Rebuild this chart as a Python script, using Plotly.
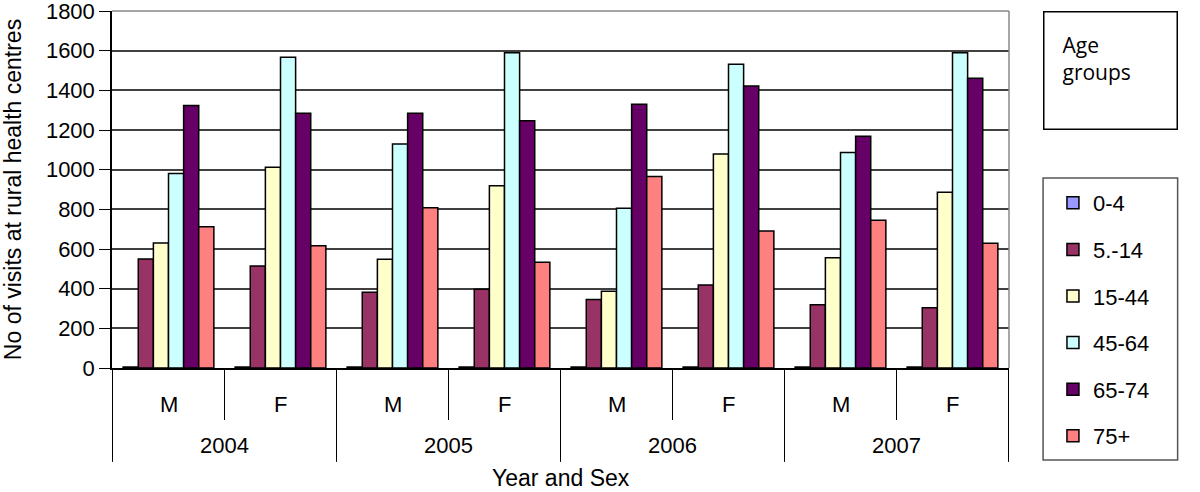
import plotly.graph_objects as go

years = ["2004", "2004", "2005", "2005", "2006", "2006", "2007", "2007"]
sexes = ["M", "F", "M", "F", "M", "F", "M", "F"]
year_labels = ["2004", "2005", "2006", "2007"]

age_groups = ["0-4", "5.-14", "15-44", "45-64", "65-74", "75+"]
colors = ["#9999FF", "#993366", "#FFFFCC", "#CCFFFF", "#660066", "#FF8080"]

v_0_4 = [5, 5, 5, 5, 5, 5, 5, 5]
v_5_14 = [550, 514, 382, 397, 346, 418, 319, 304]
v_15_44 = [630, 1012, 548, 919, 387, 1079, 556, 886]
v_45_64 = [981, 1567, 1130, 1590, 805, 1531, 1086, 1590]
v_65_74 = [1323, 1284, 1284, 1247, 1330, 1422, 1168, 1461]
v_75 = [712, 617, 808, 533, 965, 691, 745, 629]

series = [v_0_4, v_5_14, v_15_44, v_45_64, v_65_74, v_75]

# one unique category per year/sex pair
cats = [f"{y} {s}" for y, s in zip(years, sexes)]

fig = go.Figure()
for i, (name, vals) in enumerate(zip(age_groups, series)):
    fig.add_trace(go.Bar(
        x=cats,
        y=vals,
        name=name,
        legendgroup=name,
        marker=dict(color=colors[i], line=dict(color="black", width=1.5)),
    ))

fig.update_layout(
    width=1200,
    height=492,
    barmode="group",
    bargap=0.19,
    bargroupgap=0,
    plot_bgcolor="white",
    paper_bgcolor="white",
    font=dict(family="Liberation Sans, Arial", size=22, color="black"),
    margin=dict(l=112, r=191, t=11, b=124, autoexpand=False),
    legend=dict(
        x=1.049,
        xanchor="left",
        y=0.521,
        yanchor="top",
        borderwidth=0,
        font=dict(size=22),
        tracegroupgap=15,
        traceorder="grouped",
        itemclick=False,
    ),
)

fig.update_yaxes(
    range=[0, 1800],
    dtick=200,
    automargin=False,
    showgrid=True,
    gridcolor="#404040",
    gridwidth=1.5,
    showline=True,
    linecolor="black",
    linewidth=1.5,
    ticks="outside",
    ticklen=11,
    tickcolor="black",
    ticklabeloverflow="allow",
    title=dict(text="No of visits at rural health centres", font=dict(size=23), standoff=27),
)

fig.update_xaxes(
    type="category",
    automargin=False,
    showline=True,
    linecolor="black",
    linewidth=2,
    showticklabels=False,
    ticks="outside",
    tickson="boundaries",
    ticklen=50,
    tickcolor="black",
    tickwidth=1,
)

# M / F labels under each category
for i, s in enumerate(sexes):
    fig.add_annotation(text=s, xref="x", yref="paper", x=i, y=-0.101,
                       showarrow=False, yanchor="middle", font=dict(size=22))

# year labels and long dividers between years
for k, yl in enumerate(year_labels):
    fig.add_annotation(text=yl, xref="x", yref="paper", x=2 * k + 0.5, y=-0.218,
                       showarrow=False, yanchor="middle", font=dict(size=22))
for k in range(len(year_labels) + 1):
    fig.add_shape(type="line", xref="x", yref="paper", x0=2 * k - 0.5, x1=2 * k - 0.5,
                  y0=0, y1=-0.263, line=dict(color="black", width=1))

fig.add_annotation(text="Year and Sex", xref="paper", yref="paper", x=0.5, y=-0.308,
                   showarrow=False, yanchor="middle", font=dict(size=23))

# grey frame at top and right of plot area
fig.add_shape(type="line", xref="paper", yref="paper", x0=0, x1=1, y0=1, y1=1,
              line=dict(color="#888888", width=1.5))
fig.add_shape(type="line", xref="paper", yref="paper", x0=1, x1=1, y0=0, y1=1,
              line=dict(color="#888888", width=1.5))

# legend frame
fig.add_shape(type="rect", xref="paper", yref="paper",
              x0=1.038, x1=1.188, y0=-0.258, y1=0.532,
              line=dict(color="#555555", width=1.5))

fig.add_annotation(
    text="Age<br>groups",
    xref="paper", yref="paper",
    x=1.038, y=1.0,
    xanchor="left", yanchor="top",
    showarrow=False,
    align="left",
    valign="top",
    width=96,
    height=80,
    borderpad=18,
    bordercolor="black",
    borderwidth=1.5,
    font=dict(family="Open Sans", size=21, color="black"),
)

# drop the default 8px body margin so the figure sits at the page corner
fig.write_html("out.html", config={"displayModeBar": False},
               post_script="document.body.style.margin='0';")
